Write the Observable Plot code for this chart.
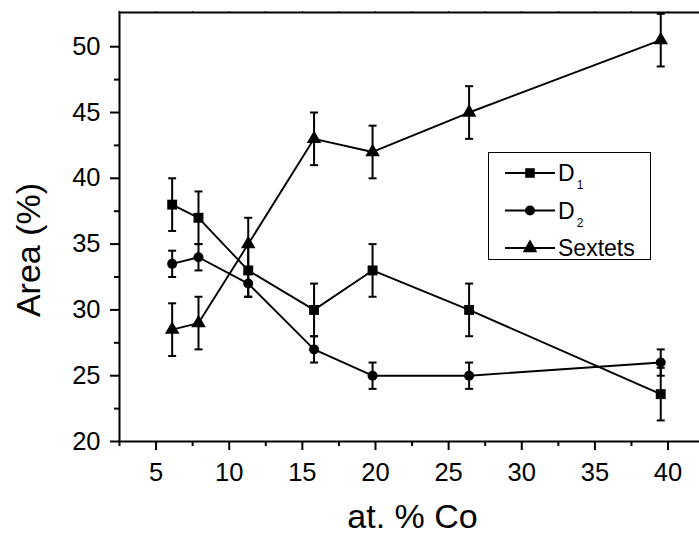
<!DOCTYPE html>
<html>
<head>
<meta charset="utf-8">
<script src="https://cdn.jsdelivr.net/npm/d3@7"></script>
<script src="https://cdn.jsdelivr.net/npm/@observablehq/plot@0.6"></script>
<style>
  html, body { margin: 0; padding: 0; background: #fff; overflow: hidden; }
  #wrap { position: relative; width: 699px; height: 536px; font-family: "Liberation Sans", Arial, sans-serif; }
  #legend { position: absolute; left: 488px; top: 152px; }
</style>
</head>
<body>
<div id="wrap"></div>
<script>
// ---- data ----
const coContent = [6.1, 7.9, 11.3, 15.8, 19.8, 26.4, 39.5];
const d1Values = [38, 37, 33, 30, 33, 30, 23.6];
const d1Errors = [2, 2, 2, 2, 2, 2, 2];
const d2Values = [33.5, 34, 32, 27, 25, 25, 26];
const d2Errors = [1, 1, 1, 1, 1, 1, 1];
const sextetValues = [28.5, 29, 35, 43, 42, 45, 50.5];
const sextetErrors = [2, 2, 2, 2, 2, 2, 2];
const seriesNames = ["D1", "D2", "Sextets"];
const xTicks = [5, 10, 15, 20, 25, 30, 35, 40];
const xMinorTicks = [2.5, 7.5, 12.5, 17.5, 22.5, 27.5, 32.5, 37.5];
const yTicks = [20, 25, 30, 35, 40, 45, 50];
const yMinorTicks = [22.5, 27.5, 32.5, 37.5, 42.5, 47.5];

// ---- table ----
const symbols = { D1: "square", D2: "circle", Sextets: "triangle" };
const sizes = { D1: 5.6, D2: 5, Sextets: 5.4 };
const valuesBySeries = { D1: d1Values, D2: d2Values, Sextets: sextetValues };
const errorsBySeries = { D1: d1Errors, D2: d2Errors, Sextets: sextetErrors };
const rows = seriesNames.flatMap(s => coContent.map((x, i) => ({
  series: s, x, y: valuesBySeries[s][i], e: errorsBySeries[s][i]
})));

const capSymbol = {
  draw(ctx, size) { ctx.moveTo(-4, 0); ctx.lineTo(4, 0); }
};

const font = "Liberation Sans, Arial, sans-serif";
const marks = [];
marks.push(Plot.frame({ anchor: "left", strokeWidth: 2 }));
marks.push(Plot.frame({ anchor: "bottom", strokeWidth: 2 }));
marks.push(Plot.frame({ anchor: "top", strokeWidth: 2 }));
marks.push(Plot.axisY({ ticks: yTicks, tickSize: 9, tickPadding: 10, tickFormat: d => d, fontSize: 25.5, strokeWidth: 2, label: null }));
marks.push(Plot.axisY({ ticks: yMinorTicks, tickSize: 5, text: null, strokeWidth: 2, label: null }));
marks.push(Plot.axisX({ ticks: xTicks, tickSize: 9, tickPadding: 12, tickFormat: d => d, fontSize: 25.5, strokeWidth: 2, label: null }));
marks.push(Plot.axisX({ ticks: xMinorTicks, tickSize: 5, text: null, strokeWidth: 2, label: null }));
marks.push(Plot.axisX({ anchor: "top", ticks: xTicks.concat(xMinorTicks), tickSize: 2, text: null, strokeWidth: 1, label: null }));

for (const s of seriesNames) {
  const data = rows.filter(r => r.series === s);
  marks.push(Plot.line(data, { x: "x", y: "y", stroke: "black", strokeWidth: 1.9 }));
  marks.push(Plot.ruleX(data, { x: "x", y1: d => d.y - d.e, y2: d => d.y + d.e, stroke: "black", strokeWidth: 2 }));
  marks.push(Plot.dot(data, { x: "x", y: d => d.y + d.e, symbol: capSymbol, stroke: "black", strokeWidth: 2, r: 4 }));
  marks.push(Plot.dot(data, { x: "x", y: d => d.y - d.e, symbol: capSymbol, stroke: "black", strokeWidth: 2, r: 4 }));
  marks.push(Plot.dot(data, { x: "x", y: "y", symbol: symbols[s], r: sizes[s], fill: "black", stroke: "none" }));
}

marks.push(Plot.text(["Area (%)"], { frameAnchor: "left", textAnchor: "middle", lineAnchor: "middle", text: d => d, rotate: -90, dx: -90, dy: 23, fontSize: 34, fill: "black" }));
marks.push(Plot.text(["at. % Co"], { frameAnchor: "bottom", textAnchor: "middle", lineAnchor: "middle", text: d => d, dx: 3, dy: 76, fontSize: 34, fill: "black" }));

const chart = Plot.plot({
  width: 699,
  height: 536,
  marginTop: 12,
  marginBottom: 95,
  marginLeft: 119,
  marginRight: 0,
  style: { fontFamily: font, fontSize: "25px", color: "black", background: "white", overflow: "visible" },
  x: { domain: [2.5, 42.15] },
  y: { domain: [20, 52.6] },
  marks
});
const wrap = document.getElementById("wrap");
wrap.appendChild(chart);

// ---- legend ----
const lw = 163, lh = 108;
const legend = d3.select(wrap).append("svg")
  .attr("id", "legend").attr("width", lw).attr("height", lh)
  .style("overflow", "visible");
legend.append("rect").attr("x", 0.5).attr("y", 0.5).attr("width", lw - 1).attr("height", lh - 1)
  .attr("fill", "white").attr("stroke", "black").attr("stroke-width", 1);
const symbolGen = { D1: d3.symbolSquare, D2: d3.symbolCircle, Sextets: d3.symbolTriangle };
const legendSizes = { D1: 5.4, D2: 5, Sextets: 5.4 };
const labels = { D1: ["D", "1"], D2: ["D", "2"], Sextets: ["Sextets", ""] };
seriesNames.forEach((s, i) => {
  const cy = 21 + i * 37.5;
  const g = legend.append("g");
  g.append("line").attr("x1", 17).attr("x2", 67).attr("y1", cy).attr("y2", cy)
    .attr("stroke", "black").attr("stroke-width", 1.9);
  const r = legendSizes[s];
  g.append("path").attr("transform", `translate(42,${cy})`)
    .attr("d", d3.symbol(symbolGen[s], Math.PI * r * r)()).attr("fill", "black");
  const t = g.append("text").attr("x", 70).attr("y", cy + 8)
    .attr("font-family", font).attr("font-size", 23).attr("fill", "black");
  t.append("tspan").text(labels[s][0]);
  if (labels[s][1]) t.append("tspan").attr("dx", 2).attr("dy", 8).attr("font-size", 12).text(labels[s][1]);
});
</script>
</body>
</html>
